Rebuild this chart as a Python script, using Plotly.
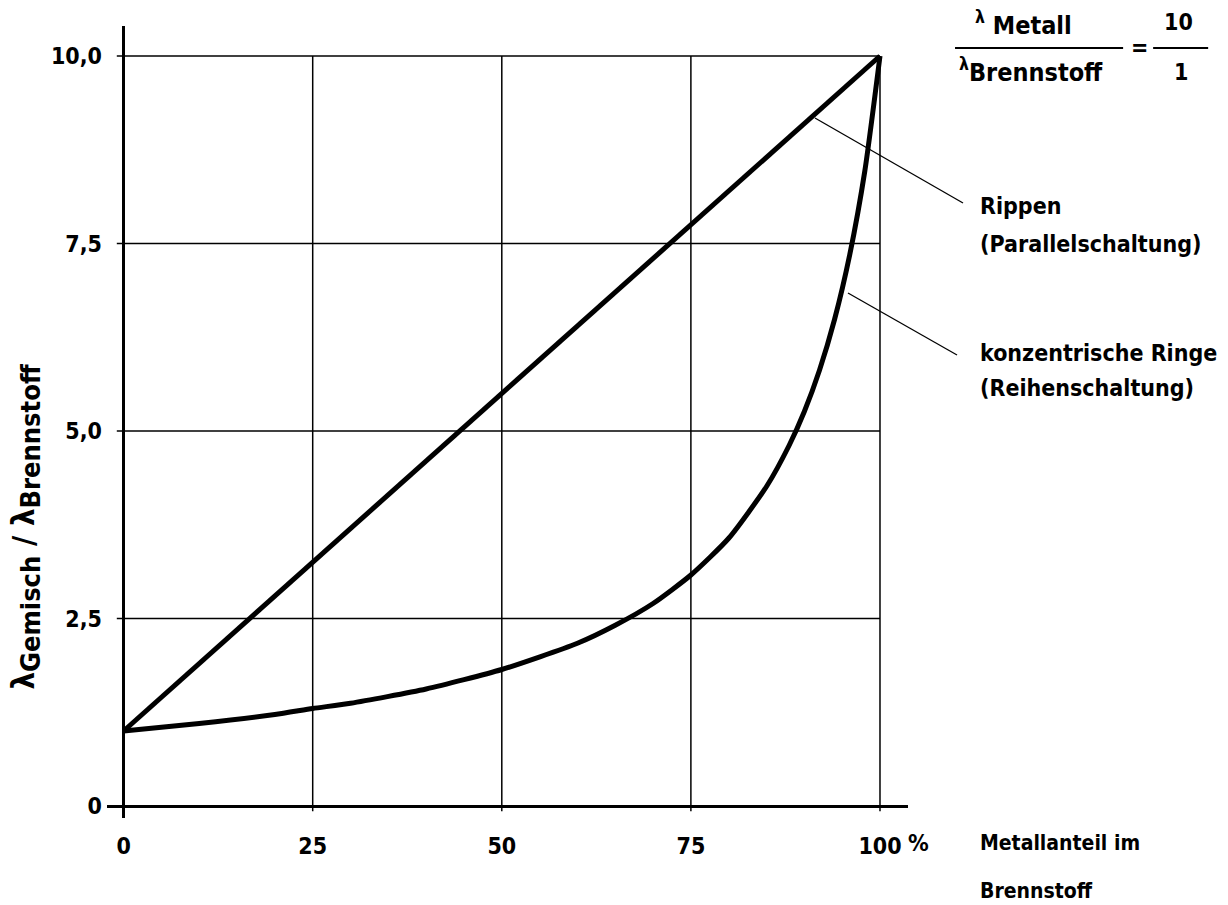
import plotly.graph_objects as go

# ---- data ----
metal_share = [0, 10, 20, 25, 30, 40, 50, 60, 65, 70, 75, 80, 85, 88, 90, 92, 94, 96, 98, 100]
series_rings = [1.0, 1.10, 1.22, 1.30, 1.37, 1.56, 1.82, 2.17, 2.41, 2.70, 3.08, 3.57, 4.26,
                4.81, 5.26, 5.81, 6.49, 7.35, 8.47, 10.0]
parallel_x = [0, 25, 50, 75, 100]
parallel_ribs = [1.0, 3.25, 5.5, 7.75, 10.0]

x_ticks = [0, 25, 50, 75, 100]
x_tick_text = ["0", "25", "50", "75", "100"]
y_ticks = [0, 2.5, 5.0, 7.5, 10.0]
y_tick_text = ["0", "2,5", "5,0", "7,5", "10,0"]
x_grid = [25, 50, 75, 100]
y_grid = [2.5, 5.0, 7.5, 10.0]

FONT = "DejaVu Sans Condensed, DejaVu Sans, sans-serif"
WIN_W, WIN_H = 1228, 905
OFF = 8  # page body margin
L, R, T, B = 107.4, 908.0, 26.0, 818.0  # plot area pixels in window coords


def px(xp):
    return (xp - L) / (R - L)


def py(yp):
    return (B - yp) / (B - T)


fig = go.Figure()
fig.add_trace(go.Scatter(x=parallel_x, y=parallel_ribs, mode="lines",
                         line=dict(color="black", width=5), hoverinfo="skip"))
fig.add_trace(go.Scatter(x=metal_share, y=series_rings, mode="lines",
                         line=dict(color="black", width=5, shape="spline", smoothing=0.6),
                         hoverinfo="skip"))

shapes = []
for g in y_grid:
    shapes.append(dict(type="line", xref="x", yref="y", x0=-0.9, x1=100, y0=g, y1=g,
                       line=dict(color="black", width=1.5), layer="below"))
for g in x_grid:
    shapes.append(dict(type="line", xref="x", yref="y", x0=g, x1=g, y0=-0.07, y1=10,
                       line=dict(color="black", width=1.5), layer="below"))

# leader lines
shapes.append(dict(type="line", xref="paper", yref="paper", x0=px(815), y0=py(118),
                   x1=px(963), y1=py(203), line=dict(color="black", width=1.3)))
shapes.append(dict(type="line", xref="paper", yref="paper", x0=px(848), y0=py(293),
                   x1=px(957), y1=py(355), line=dict(color="black", width=1.3)))
# fraction bars
shapes.append(dict(type="line", xref="paper", yref="paper", x0=px(955), y0=py(48),
                   x1=px(1123), y1=py(48), line=dict(color="black", width=2)))
shapes.append(dict(type="line", xref="paper", yref="paper", x0=px(1153), y0=py(48),
                   x1=px(1208), y1=py(48), line=dict(color="black", width=2)))

tf = dict(family=FONT, size=23, color="black")
ann = []


def text(s, xp, yp, xanchor="left", size=23, angle=0):
    ann.append(dict(text=s, xref="paper", yref="paper", x=px(xp), y=py(yp), xanchor=xanchor,
                    yanchor="middle", showarrow=False, textangle=angle,
                    font=dict(family=FONT, size=size, color="black")))


text("<sup><b>λ</b></sup><b> Metall</b>", 1023, 24, "center", size=25)
text("<sup><b>λ</b></sup><b>Brennstoff</b>", 1031, 70, "center", size=25)
text("<b>=</b>", 1139, 47, "center")
text("<b>10</b>", 1178, 22, "center")
text("<b>1</b>", 1181, 72, "center")
text("<b>Rippen</b>", 978, 206)
text("<b>(Parallelschaltung)</b>", 978, 244)
text("<b>konzentrische Ringe</b>", 978, 353, size=23)
text("<b>(Reihenschaltung)</b>", 978, 388)
text("<b>%</b>", 918, 843, "center")
text("<b>Metallanteil im</b>", 978, 843, size=21)
text("<b>Brennstoff</b>", 978, 891, size=21)
SUB = "<sub><span style='font-size:27px'><b>%s</b></span></sub>"
text("<b>λ</b>" + SUB % "Gemisch" + "<b> / λ</b>" + SUB % "Brennstoff", 26, 527,
     "center", size=31, angle=-90)

fig.update_layout(
    width=WIN_W - OFF, height=WIN_H - OFF,
    margin=dict(l=L - OFF, r=WIN_W - R, t=T - OFF, b=WIN_H - B, pad=0),
    paper_bgcolor="white", plot_bgcolor="white",
    showlegend=False,
    shapes=shapes, annotations=ann,
    xaxis=dict(range=[-(124 - L) / 7.56, 100 + (R - 880) / 7.56], showgrid=False,
               zeroline=True, zerolinecolor="black", zerolinewidth=3,
               tickmode="array", tickvals=x_ticks, ticktext=["<b>%s</b>" % t for t in x_tick_text],
               ticks="", showline=False, tickfont=tf, ticklabelstandoff=12),
    yaxis=dict(range=[-(B - 806) / 75, 10 + (56 - T) / 75], showgrid=False,
               zeroline=True, zerolinecolor="black", zerolinewidth=3,
               tickmode="array", tickvals=y_ticks, ticktext=["<b>%s</b>" % t for t in y_tick_text],
               ticks="", showline=False, tickfont=tf, ticklabelstandoff=4),
)
fig.write_html("out.html")
